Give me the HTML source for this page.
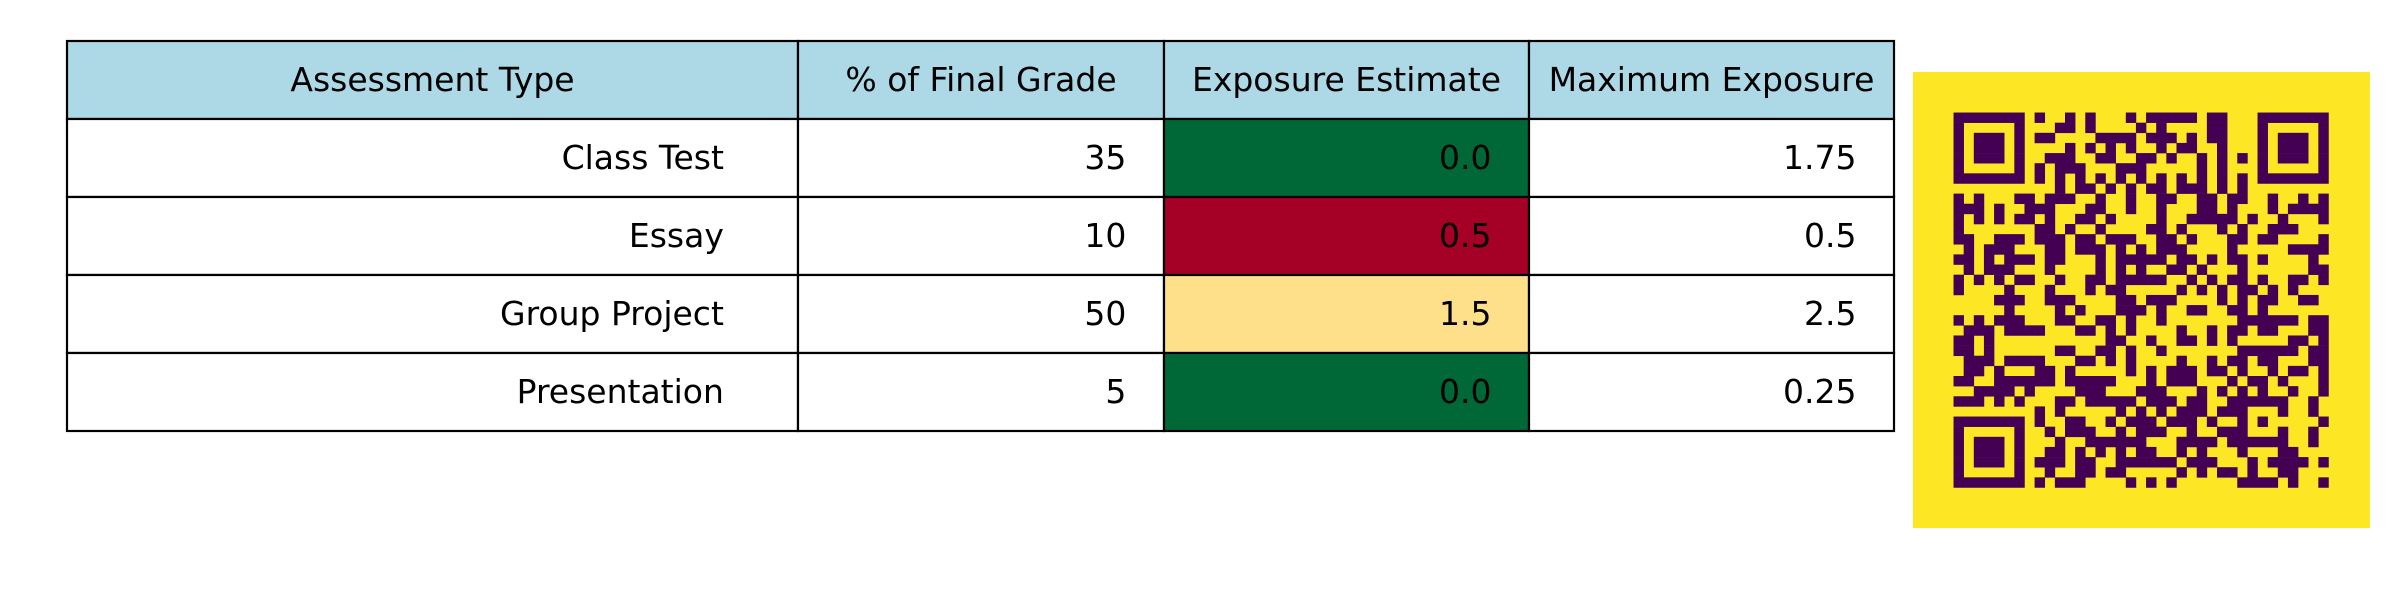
<!DOCTYPE html>
<html><head><meta charset="utf-8">
<style>
html,body{margin:0;padding:0;background:#fff;}
svg text{font-family:"DejaVu Sans","Liberation Sans",sans-serif;font-size:33px;fill:#000;}
</style></head>
<body>
<svg id="chart" width="2400" height="600" viewBox="0 0 2400 600" xmlns="http://www.w3.org/2000/svg">
<g id="table"></g>
<g id="qr"></g>
</svg>
<script>
const headers = ["Assessment Type", "% of Final Grade", "Exposure Estimate", "Maximum Exposure"];
const assessmentTypes = ["Class Test", "Essay", "Group Project", "Presentation"];
const finalGrade = ["35", "10", "50", "5"];
const exposureEstimate = ["0.0", "0.5", "1.5", "0.0"];
const maxExposure = ["1.75", "0.5", "2.5", "0.25"];
const exposureColors = ["#006837", "#a50026", "#fee08b", "#006837"];

const qrRows = [
[[0,6],[8],[11],[13],[17],[19,23],[25,26],[30,36]],
[[0],[6],[10,11],[13],[18],[20],[25,26],[30],[36]],
[[0],[2,4],[6],[8,9],[14,17],[19,21],[23],[25,26],[30],[32,34],[36]],
[[0],[2,4],[6],[11],[13],[15],[17],[20],[22,23],[26],[30],[32,34],[36]],
[[0],[2,4],[6],[9,11],[14,15],[18,19],[21],[24],[26],[28],[30],[32,34],[36]],
[[0],[6],[8],[10,12],[16,18],[24],[26],[30],[36]],
[[0,6],[8],[10],[12],[14],[16],[18],[20],[22],[24],[26],[28],[30,36]],
[[10],[12,13],[15],[17],[19,20],[22,24],[26],[28]],
[[0],[2],[6,7],[9,11],[14],[17],[20,21],[24,25],[27,28],[31],[34],[36]],
[[0,2],[4],[7,9],[13,14],[17],[20],[24,25],[27],[31],[33,36]],
[[0],[2],[4],[6,7],[9],[12,13],[15],[20],[23,27],[29],[32],[36]],
[[0],[8,9],[11],[14],[19,20],[22],[26],[28],[31,33]],
[[0,1],[4,6],[8,10],[12,13],[15,17],[20,21],[23],[27,28],[30,31],[36]],
[[1],[3,5],[9,10],[12,14],[16],[18],[20,22],[27],[33,36]],
[[0,1],[3],[5,7],[9,10],[14],[16,20],[22,23],[25],[27,28],[30],[35]],
[[1],[3,5],[9],[14],[16],[18],[21,22],[24],[28],[35,36]],
[[0],[2],[4],[6,7],[10],[13,14],[16,20],[23],[25],[27,28],[30],[33,34],[36]],
[[0],[5],[9],[13],[15,16],[22],[24],[26],[28,29],[31],[33]],
[[4,6],[9,11],[16,17],[19,21],[26],[28],[30,31],[34,35]],
[[5],[10],[12],[16,18],[20],[23,24],[27,28],[30]],
[[0],[2],[4,6],[10,11],[14,15],[17],[20],[28,33],[35,36]],
[[1,3],[5,8],[12,13],[15],[17],[22],[25],[27,28],[30,31],[35,36]],
[[0,1],[3],[15,16],[19],[22,23],[25],[27],[33,34],[36]],
[[0,1],[3],[10,11],[14,15],[17],[20],[28,33],[35,36]],
[[1,3],[5,8],[12,13],[15],[17],[22],[25],[27,28],[30,31],[35,36]],
[[1,2],[4],[8,9],[11],[17],[19],[21,23],[25,26],[28],[31],[33,34],[36]],
[[0,1],[4,9],[11,15],[19],[21,23],[27],[29,30],[32],[36]],
[[2,5],[7],[12,14],[18,20],[24],[26],[28],[30],[33],[36]],
[[0,2],[4],[6],[10,11],[13,17],[19,21],[23,24],[27,32],[35]],
[[8],[10],[16],[18],[20],[22,24],[26,28],[32],[35]],
[[0,6],[8],[11,12],[15],[17,19],[21,23],[25],[28],[30],[36]],
[[0],[6],[9],[11,13],[16],[18,20],[23],[26,28],[32],[35]],
[[0],[2,4],[6],[10],[13,18],[22,25],[27,32],[35]],
[[0],[2,4],[6],[9,10],[12],[14],[16],[18,19],[22],[24],[28],[32,33]],
[[0],[2,4],[6],[8,10],[12,13],[16,21],[23,25],[29],[31,34],[36]],
[[0],[6],[9],[12,13],[15,16],[22],[24],[26,27],[29],[32,33]],
[[0,6],[8],[10,12],[17],[19],[21],[28,31],[33],[36]]
];

const NS = "http://www.w3.org/2000/svg";
const colX = [67, 798, 1164, 1529, 1894];
const rowY0 = 41, rowH = 78;
const tbl = document.getElementById("table");

function cell(x, y, w, h, fill, txt, align, name) {
  const r = document.createElementNS(NS, "rect");
  r.setAttribute("x", x); r.setAttribute("y", y);
  r.setAttribute("width", w); r.setAttribute("height", h);
  r.setAttribute("fill", fill); r.setAttribute("stroke", "#000"); r.setAttribute("stroke-width", "2.2");
  
  
  tbl.appendChild(r);
  const t = document.createElementNS(NS, "text");
  t.setAttribute("y", y + h / 2 + 11);
  if (align === "center") { t.setAttribute("x", x + w / 2); t.setAttribute("text-anchor", "middle"); }
  else { t.setAttribute("x", x + w - w * 0.1 - 1); t.setAttribute("text-anchor", "end"); }
  t.textContent = txt;
  
  
  tbl.appendChild(t);
}

for (let c = 0; c < headers.length; c++) {
  cell(colX[c], rowY0, colX[c+1]-colX[c], rowH, "#add8e6", headers[c], "center", "header-" + c);
}
for (let i = 0; i < assessmentTypes.length; i++) {
  const y = rowY0 + rowH * (i + 1);
  const vals = [assessmentTypes[i], finalGrade[i], exposureEstimate[i], maxExposure[i]];
  const fills = ["#fff", "#fff", exposureColors[i], "#fff"];
  for (let c = 0; c < 4; c++) {
    cell(colX[c], y, colX[c+1]-colX[c], rowH, fills[c], vals[c], "right", "row" + i + "-col" + c);
  }
}

const qr = document.getElementById("qr");
const bg = document.createElementNS(NS, "rect");
bg.setAttribute("x", 1913); bg.setAttribute("y", 72); bg.setAttribute("width", 457); bg.setAttribute("height", 456);
bg.setAttribute("fill", "#fde725");


qr.appendChild(bg);
const m = 456 / 45, ox = 1913 + 4 * m, oy = 72 + 4 * m;
qrRows.forEach((row, r) => {
  row.forEach(seg => {
    const a = seg[0], b = seg.length > 1 ? seg[1] : seg[0];
    const rc = document.createElementNS(NS, "rect");
    rc.setAttribute("x", (ox + a * m).toFixed(2));
    rc.setAttribute("y", (oy + r * m).toFixed(2));
    rc.setAttribute("width", ((b - a + 1) * m + 0.3).toFixed(2));
    rc.setAttribute("height", (m + 0.3).toFixed(2));
    rc.setAttribute("fill", "#440154");
    
    
    qr.appendChild(rc);
  });
});
</script>
</body></html>
